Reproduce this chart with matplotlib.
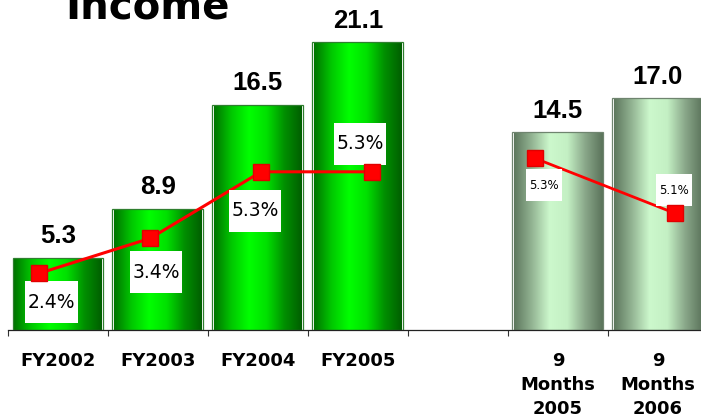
import numpy as np
import matplotlib.pyplot as plt
from functools import partial
from matplotlib.colors import LinearSegmentedColormap
from matplotlib.patches import Rectangle
from matplotlib.path import Path

categories = ['FY2002', 'FY2003', 'FY2004', 'FY2005', '',
              '9\nMonths\n2005', '9\nMonths\n2006']
income = [5.3, 8.9, 16.5, 21.1, None, 14.5, 17.0]
fy_margin = [2.4, 3.4, 5.3, 5.3]
nine_month_margin = [5.3, 5.1]

# label box offsets from each marker, in pixels
fy_label_offsets = [(12, -29), (6, -34), (-6, -39), (-12, 28)]
nine_label_offsets = [(9, -27), (-1, 23)]

W, H = 701, 418
fig = plt.figure(figsize=(W / 100, H / 100), dpi=100)


def px_axes(x0, y0, x1, y1):
    # axes placed by pixel box (top-left origin)
    return fig.add_axes([x0 / W, 1 - y1 / H, (x1 - x0) / W, (y1 - y0) / H])


def label_box(x0, y0, width, height, mutation_size, padx, pady):
    x0, y0 = x0 - padx, y0 - pady
    x1, y1 = x0 + width + 2 * padx, y0 + height + 2 * pady
    return Path([(x0, y0), (x1, y0), (x1, y1), (x0, y1), (x0, y0)], closed=True)


fy_cmap = LinearSegmentedColormap.from_list(
    'fy', ['#007400', '#00c800', '#00ff00', '#00e000', '#009000', '#005e00'])
nm_cmap = LinearSegmentedColormap.from_list(
    'nm', ['#5d775d', '#93b493', '#ccf8cc', '#c4f0c4', '#8aa88a', '#5a735a'])
grad = np.linspace(0, 1, 256).reshape(1, -1)

# bars
ax = px_axes(8, 0, 708, 330)
for i, v in enumerate(income):
    if v is None:
        continue
    fy = i < 4
    ax.imshow(grad, extent=[i - 0.44, i + 0.44, 0, v - 0.1], aspect='auto',
              cmap=fy_cmap if fy else nm_cmap, interpolation='bilinear', zorder=2)
    ax.add_patch(Rectangle((i - 0.455, 0), 0.91, v, fill=False, lw=0.9,
                           ec='#2f7f2f' if fy else '#6f846f', zorder=3))
    ax.annotate(f'{v:.1f}', (i, v), xytext=(0, 14.5), textcoords='offset pixels',
                ha='center', va='baseline', fontsize=18.5, fontweight='bold',
                family='Liberation Sans')

ax.set_xlim(-0.5, 6.5)
ax.set_ylim(0, 330 / 13.64)
ax.set_xticks(range(len(categories)), categories)
ax.set_xticks(np.arange(-0.5, 7, 1), minor=True)
ax.tick_params(axis='x', which='major', length=0, pad=15.5)
ax.tick_params(axis='x', which='minor', length=4.3, width=0.8, color='#333333')
for lbl in ax.get_xticklabels():
    lbl.set_fontsize(13)
    lbl.set_fontweight('bold')
    lbl.set_linespacing(1.45)
ax.set_yticks([])
for s in ['left', 'top', 'right']:
    ax.spines[s].set_visible(False)
ax.spines['bottom'].set_color('#222222')
ax.spines['bottom'].set_linewidth(0.9)

# FY margin line
lax = px_axes(0, 0, 420, 418)
lax.set_xlim(-39.3 / 110.9, (420 - 39.3) / 110.9)
lax.set_ylim((357.3 - 418) / 35, 357.3 / 35)
lax.axis('off')
lax.plot(range(len(fy_margin)), fy_margin, color='#ff0000', lw=2.2,
         zorder=2)
lax.plot(range(len(fy_margin)), fy_margin, ls='none', marker='s', ms=12,
         color='#ff0000', mec='#e00000', zorder=4)
for i, (m, off) in enumerate(zip(fy_margin, fy_label_offsets)):
    lax.annotate(f'{m:.1f}%', (i, m), xytext=off, textcoords='offset pixels',
                 ha='center', va='center', fontsize=13.5, zorder=3,
                 bbox=dict(boxstyle=partial(label_box, padx=2.5, pady=11.5),
                           fc='white', ec='none'))

# nine-month margin line
nax = px_axes(420, 0, 701, 418)
nax.set_xlim((420 - 535) / 140, (701 - 535) / 140)
nax.set_ylim(5.3 - (418 - 158.3) / 275, 5.3 + 158.3 / 275)
nax.axis('off')
nax.plot(range(len(nine_month_margin)), nine_month_margin, color='#ff0000',
         lw=2, zorder=2)
nax.plot(range(len(nine_month_margin)), nine_month_margin, ls='none',
         marker='s', ms=11, color='#ff0000', mec='#e00000', zorder=4)
for i, (m, off) in enumerate(zip(nine_month_margin, nine_label_offsets)):
    nax.annotate(f'{m:.1f}%', (i, m), xytext=off, textcoords='offset pixels',
                 ha='center', va='center', fontsize=8.5, zorder=3,
                 bbox=dict(boxstyle=partial(label_box, padx=3, pady=9.5),
                           fc='white', ec='none'))

fig.text(65 / W, 1 - 18.5 / H, 'Income', fontsize=29, fontweight='bold',
         ha='left', va='baseline')

fig.savefig('out.png', dpi=100)
